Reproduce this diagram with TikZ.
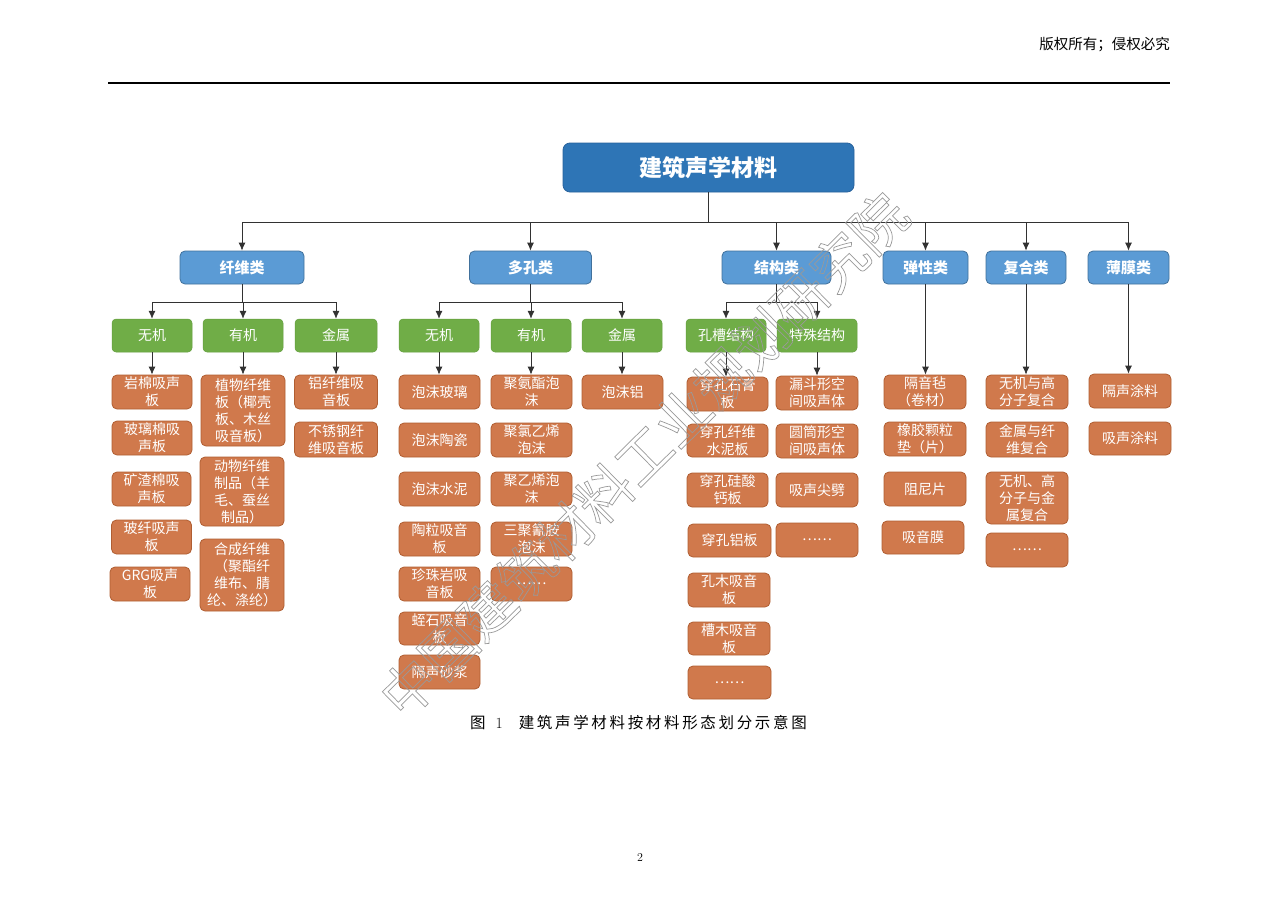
\documentclass[tikz,border=0pt]{standalone}
\usepackage{fontspec}
\newfontfamily\cjk{Noto Sans CJK SC}
\usetikzlibrary{arrows.meta}
\definecolor{rootblue}{RGB}{46,117,182}
\definecolor{rootedge}{RGB}{40,98,156}
\definecolor{catblue}{RGB}{91,155,213}
\definecolor{catedge}{RGB}{65,113,156}
\definecolor{subgreen}{RGB}{112,173,71}
\definecolor{subedge}{RGB}{100,158,62}
\definecolor{leaforange}{RGB}{208,121,76}
\definecolor{leafedge}{RGB}{176,94,50}
\definecolor{lineg}{RGB}{50,50,50}
\newcommand\mkleaf[6]{\node[leaf,minimum width=#4pt,minimum height=#5pt] (#1) at (#2,#3) {#6};}
\newcommand\mksub[4]{\node[subbox,minimum width=#4pt] (#1) at (#3,335.5) {#2};}
\newcommand\mkcat[4]{\node[catbox,minimum width=#4pt] (#1) at (#3,267.5) {#2};}
\begin{document}
\begin{tikzpicture}[x=1pt,y=-1pt,
  rootbox/.style={fill=rootblue,draw=rootedge,line width=0.8pt,rounded corners=7pt,text=white,inner sep=0pt,
    font=\cjk\bfseries\fontsize{23}{27}\selectfont},
  catbox/.style={fill=catblue,draw=catedge,line width=0.8pt,rounded corners=5pt,text=white,inner sep=0pt,
    minimum height=33pt,font=\cjk\bfseries\fontsize{15}{18}\selectfont},
  subbox/.style={fill=subgreen,draw=subedge,line width=0.5pt,rounded corners=4pt,text=white,inner sep=0pt,
    minimum height=33pt,font=\cjk\fontsize{14}{17}\selectfont},
  leaf/.style={fill=leaforange,draw=leafedge,line width=0.8pt,rounded corners=5pt,text=white,inner sep=0pt,
    align=center,font=\cjk\fontsize{14}{17}\selectfont},
  arr/.style={draw=lineg,line width=0.8pt,-{Latex[length=8pt,width=7pt]}},
  plain/.style={draw=lineg,line width=0.8pt}
]
\useasboundingbox (0,0) rectangle (1280,905);
\fill[white] (0,0) rectangle (1280,905);

% header
\node[anchor=east,inner sep=0pt,font=\cjk\fontsize{14.5}{16}\selectfont] (hdr) at (1170,45) {版权所有；侵权必究};
\coordinate (hl) at (108,83);
\coordinate (hr) at (1170,83);
\draw[line width=1.3pt] (hl) -- (hr);

% root
\node[rootbox,minimum width=291pt,minimum height=49pt] (root) at (708.5,167.5) {建筑声学材料};

% level 1
\mkcat{fiber}{纤维类}{242}{124}
\mkcat{porous}{多孔类}{530.5}{122}
\mkcat{struct}{结构类}{776.5}{109}
\mkcat{elastic}{弹性类}{925.5}{85}
\mkcat{compo}{复合类}{1026}{80}
\mkcat{film}{薄膜类}{1128.5}{81}

\coordinate (bus) at (708.5,222);
\draw[plain] (root.south) -- (bus);
\foreach \n in {fiber,porous,struct,elastic,compo,film}
  \draw[arr] (bus) -| (\n.north);

% level 2
\mksub{f1}{无机}{152}{80}
\mksub{f2}{有机}{243}{80}
\mksub{f3}{金属}{336}{82}
\mksub{p1}{无机}{439}{80}
\mksub{p2}{有机}{531}{80}
\mksub{p3}{金属}{622}{80}
\mksub{s1}{孔槽结构}{726}{80}
\mksub{s2}{特殊结构}{817}{80}

\coordinate (fb) at (242,302);
\draw[plain] (fiber.south) -- (fb);
\foreach \n in {f1,f2,f3} \draw[arr] (fb) -| (\n.north);
\coordinate (pb) at (530.5,302);
\draw[plain] (porous.south) -- (pb);
\foreach \n in {p1,p2,p3} \draw[arr] (pb) -| (\n.north);
\coordinate (sb) at (776.5,302);
\draw[plain] (struct.south) -- (sb);
\foreach \n in {s1,s2} \draw[arr] (sb) -| (\n.north);

% leaves: fiber
\mkleaf{f1a}{152}{392}{80}{34}{岩棉吸声\\板}
\mkleaf{f1b}{152}{438}{80}{34}{玻璃棉吸\\声板}
\mkleaf{f1c}{151.5}{489}{79}{34}{矿渣棉吸\\声板}
\mkleaf{f1d}{151.5}{537}{80}{34}{玻纤吸声\\板}
\mkleaf{f1e}{150}{584}{80}{34}{GRG吸声\\板}
\mkleaf{f2a}{243}{410.5}{84}{71}{植物纤维\\板（椰壳\\板、木丝\\吸音板）}
\mkleaf{f2b}{242}{491.5}{84}{69}{动物纤维\\制品（羊\\毛、蚕丝\\制品）}
\mkleaf{f2c}{242}{575}{84}{72}{合成纤维\\（聚酯纤\\维布、腈\\纶、涤纶）}
\mkleaf{f3a}{336}{392}{83}{34}{铝纤维吸\\音板}
\mkleaf{f3b}{336}{439.5}{83}{35}{不锈钢纤\\维吸音板}
% porous
\mkleaf{p1a}{439.5}{392}{81}{34}{泡沫玻璃}
\mkleaf{p1b}{439.5}{440}{81}{34}{泡沫陶瓷}
\mkleaf{p1c}{439.5}{489}{81}{34}{泡沫水泥}
\mkleaf{p1d}{439.5}{539}{81}{34}{陶粒吸音\\板}
\mkleaf{p1e}{439.5}{584}{81}{34}{珍珠岩吸\\音板}
\mkleaf{p1f}{439.5}{628.5}{81}{33}{蛭石吸音\\板}
\mkleaf{p1g}{439.5}{672}{81}{34}{隔声砂浆}
\mkleaf{p2a}{531.5}{392}{81}{34}{聚氨酯泡\\沫}
\mkleaf{p2b}{531.5}{440}{81}{34}{聚氯乙烯\\泡沫}
\mkleaf{p2c}{531.5}{489}{81}{34}{聚乙烯泡\\沫}
\mkleaf{p2d}{531.5}{539}{81}{34}{三聚氰胺\\泡沫}
\mkleaf{p2e}{531.5}{584}{81}{34}{……}
\mkleaf{p3a}{622.5}{392}{81}{34}{泡沫铝}
% structural
\mkleaf{s1a}{727.5}{394}{81}{34}{穿孔石膏\\板}
\mkleaf{s1b}{727.5}{440.5}{81}{33}{穿孔纤维\\水泥板}
\mkleaf{s1c}{727.5}{490}{81}{34}{穿孔硅酸\\钙板}
\mkleaf{s1d}{729.5}{540.5}{83}{33}{穿孔铝板}
\mkleaf{s1e}{729}{590}{82}{34}{孔木吸音\\板}
\mkleaf{s1f}{729}{638.5}{82}{33}{槽木吸音\\板}
\mkleaf{s1g}{729.5}{682.5}{83}{33}{……}
\mkleaf{s2a}{817}{393}{82}{34}{漏斗形空\\间吸声体}
\mkleaf{s2b}{817}{441}{82}{34}{圆筒形空\\间吸声体}
\mkleaf{s2c}{817}{490}{82}{34}{吸声尖劈}
\mkleaf{s2d}{817}{540}{82}{34}{……}
% elastic
\mkleaf{ea}{925}{392}{82}{34}{隔音毡\\（卷材）}
\mkleaf{eb}{925}{439}{82}{34}{橡胶颗粒\\垫（片）}
\mkleaf{ec}{925}{489}{82}{34}{阻尼片}
\mkleaf{ed}{923}{537.5}{82}{33}{吸音膜}
% composite
\mkleaf{ca}{1027}{392}{82}{34}{无机与高\\分子复合}
\mkleaf{cb}{1027}{439.5}{82}{35}{金属与纤\\维复合}
\mkleaf{cc}{1027}{498}{82}{52}{无机、高\\分子与金\\属复合}
\mkleaf{cd}{1027}{550}{82}{34}{……}
% film
\mkleaf{ma}{1130}{391}{82}{34}{隔声涂料}
\mkleaf{mb}{1130}{438.5}{82}{33}{吸声涂料}

% arrows to first leaves
\foreach \a/\b in {f1/f1a,f2/f2a,f3/f3a,p1/p1a,p2/p2a,p3/p3a,s1/s1a,s2/s2a,elastic/ea,compo/ca,film/ma}
  \draw[arr] (\a.south) -- (\a.south |- \b.north);

% caption and page number
\node[anchor=west,inner sep=0pt,font=\fontsize{15.5}{18}\selectfont] (cap) at (470,723)
  {{\cjk 图}\hspace{10pt}1\hspace{16pt}{\cjk\hbox to 288pt{建\hfil 筑\hfil 声\hfil 学\hfil 材\hfil 料\hfil 按\hfil 材\hfil 料\hfil 形\hfil 态\hfil 划\hfil 分\hfil 示\hfil 意\hfil 图}}};
\node[inner sep=0pt,font=\fontsize{12}{14}\selectfont] (pg) at (640,857) {2};

% watermark
\node[rotate=44.7,inner sep=0pt,text=black!40,font=\cjk\fontsize{55}{55}\selectfont] (wm) at (643.5,455)
  {\special{pdf:literal direct 1 Tr 0.7 w}中国建筑材料工业规划研究院\special{pdf:literal direct 0 Tr}};
\end{tikzpicture}
\end{document}
